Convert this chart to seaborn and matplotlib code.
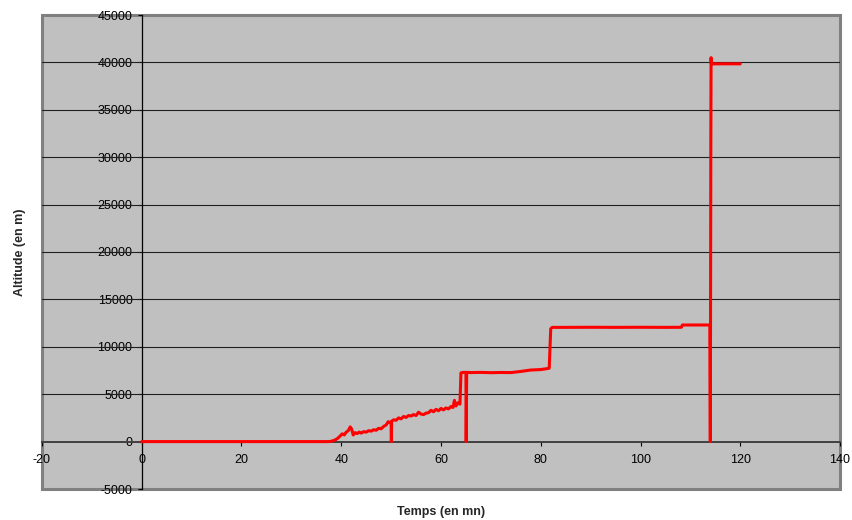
import matplotlib
matplotlib.use("Agg")
import matplotlib.pyplot as plt
import seaborn as sns
import pandas as pd

# Flight record: elapsed time (minutes) and altitude (metres)
temps = [
    0, 10, 20, 30, 37.6, 38.2, 38.8, 39.3, 39.8, 40.2, 40.6, 41.0, 41.4, 41.8,
    42.1, 42.4, 42.8, 43.2, 43.6, 44.0, 44.5, 45.0, 45.5, 46.0, 46.5, 47.0,
    47.5, 48.0, 48.5, 49.0, 49.4, 49.8, 50.0, 50.05, 50.1, 50.5, 51.0, 51.5,
    52.0, 52.5, 53.0, 53.5, 54.0, 54.5, 55.0, 55.5, 56.0, 56.5, 57.0, 57.5,
    58.0, 58.5, 59.0, 59.5, 60.0, 60.5, 61.0, 61.5, 62.0, 62.4, 62.7, 63.0,
    63.4, 63.8, 64.0, 64.5, 65.0, 65.05, 65.15, 66, 68, 70, 72, 74, 76, 78,
    80, 81.3, 81.7, 82.0, 82.3, 85, 90, 95, 100, 105, 108.2, 108.4, 113.9,
    114.0, 114.05, 114.1, 114.15, 114.2, 120.0,
]
altitude = [
    0, 0, 0, 0, 0, 60, 180, 350, 600, 820, 700, 1000, 1150, 1550,
    1300, 700, 950, 850, 1000, 900, 1050, 1000, 1150, 1100, 1250, 1200,
    1400, 1350, 1600, 1750, 2100, 2000, 2050, 0, 2150, 2300, 2250, 2500,
    2400, 2650, 2550, 2750, 2700, 2850, 2750, 3100, 2900, 2850, 3000, 3050,
    3300, 3150, 3400, 3250, 3500, 3350, 3550, 3450, 3700, 3600, 4350, 3750,
    4100, 3950, 7250, 7300, 7300, 0, 7300, 7280, 7300, 7270, 7290, 7280, 7400, 7550,
    7600, 7700, 7750, 11900, 12050, 12050, 12060, 12050, 12060, 12050, 12060, 12300, 12300,
    0, 15000, 31000, 40500, 39850, 39850,
]

x_ticks = [-20, 0, 20, 40, 60, 80, 100, 120, 140]
y_ticks = [-5000, 0, 5000, 10000, 15000, 20000, 25000, 30000, 35000, 40000, 45000]

sns.set_style("white")
plt.rcParams["font.family"] = ["Liberation Sans", "DejaVu Sans"]
plt.rcParams["axes.unicode_minus"] = False

df = pd.DataFrame({"Temps": temps, "Altitude": altitude})

fig = plt.figure(figsize=(8.53, 5.2), dpi=100)
ax = fig.add_axes([42 / 853, 1 - 489 / 520, 798 / 853, 474 / 520])
ax.set_facecolor("#C0C0C0")

# Horizontal gridlines
for yv in y_ticks[1:-1]:
    if yv != 0:
        ax.axhline(yv, color="#202020", linewidth=0.8, zorder=1)

sns.lineplot(data=df, x="Temps", y="Altitude", ax=ax, sort=False,
             estimator=None, color="#FF0000", linewidth=2.2, zorder=4)

ax.set_xlim(-20, 140)
ax.set_ylim(-5000, 45000)
ax.set_xticks(x_ticks)
ax.set_yticks(y_ticks)
ax.set_xticklabels([str(v) for v in x_ticks])
ax.set_yticklabels([str(v) for v in y_ticks])

# Axis lines crossing at the origin
ax.spines["left"].set_position(("data", 0))
ax.spines["bottom"].set_position(("data", 0))
ax.spines["left"].set_color("black")
ax.spines["left"].set_linewidth(0.9)
ax.spines["bottom"].set_color("#404040")
ax.spines["bottom"].set_linewidth(1.4)
ax.spines["left"].set_zorder(3)
ax.spines["bottom"].set_zorder(3)
ax.spines["top"].set_visible(False)
ax.spines["right"].set_visible(False)

# Plot-area frame
ax.patch.set_edgecolor("#808080")
ax.patch.set_linewidth(2.2)

ax.tick_params(axis="y", direction="out", length=3.2, width=0.8, pad=3.5,
               labelsize=9, colors="black", left=True)
ax.tick_params(axis="x", direction="out", length=3.0, width=0.8, pad=6,
               labelsize=9, colors="black", bottom=True)

ax.set_xlabel("Temps (en mn)", fontsize=9, fontweight="bold")
ax.set_ylabel("Altitude (en m)", fontsize=9, fontweight="bold")
ax.xaxis.set_label_coords(0.5, -0.036)
ax.yaxis.set_label_coords(-0.020, 0.5)

fig.savefig("out.png", dpi=100, facecolor="white")
